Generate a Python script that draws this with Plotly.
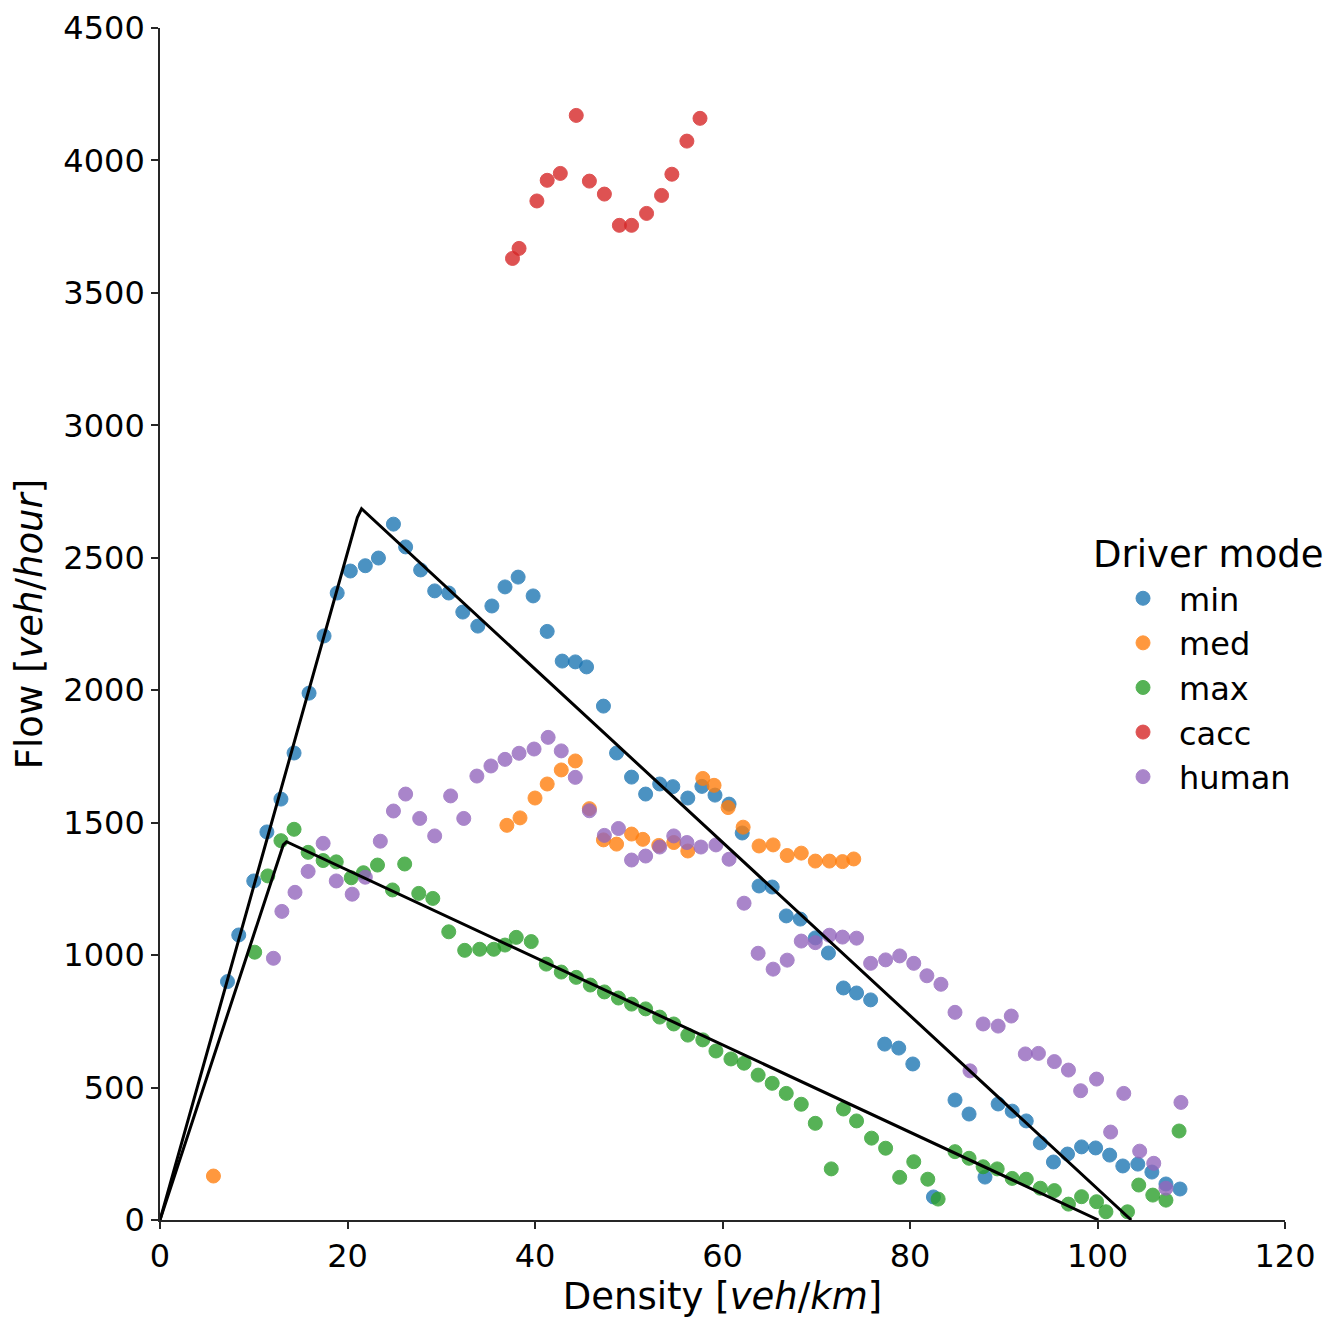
import plotly.graph_objects as go

# ---------------- data ----------------
min_x = [7.2, 8.4, 10.0, 11.4, 12.9, 14.3, 15.9, 17.5, 18.9, 20.3, 21.9, 23.3, 24.9, 26.2, 27.8,
         29.3, 30.8, 32.3, 33.9, 35.4, 36.8, 38.2, 39.8, 41.3, 42.9, 44.3, 45.5, 47.3, 48.7, 50.3,
         51.8, 53.3, 54.7, 56.3, 57.8, 59.2, 60.7, 62.1, 63.9, 65.3, 66.8, 68.3, 69.9, 71.3, 72.9,
         74.3, 75.8, 77.3, 78.8, 80.3, 82.5, 84.8, 86.3, 88.0, 89.4, 90.9, 92.4, 93.9, 95.3, 96.8,
         98.3, 99.8, 101.3, 102.7, 104.3, 105.8, 107.3, 108.8]
min_y = [900, 1076, 1280, 1465, 1589, 1763, 1989, 2205, 2367, 2450, 2470, 2499, 2627, 2541, 2454,
         2375, 2367, 2295, 2242, 2318, 2390, 2427, 2356, 2222, 2110, 2107, 2088, 1940, 1763, 1672,
         1608, 1646, 1636, 1593, 1637, 1604, 1570, 1461, 1261, 1257, 1148, 1136, 1065, 1008, 876,
         857, 831, 664, 649, 589, 87, 453, 400, 162, 438, 411, 374, 291, 219, 249,
         276, 272, 245, 204, 211, 181, 136, 117]

med_x = [5.7, 37.0, 38.4, 40.0, 41.3, 42.8, 44.3, 45.8, 47.3, 48.7, 50.3, 51.5, 53.2, 54.8, 56.3,
         57.9, 59.1, 60.6, 62.2, 63.9, 65.4, 66.9, 68.4, 69.9, 71.4, 72.8, 74.0]
med_y = [166, 1490, 1518, 1593, 1646, 1699, 1733, 1553, 1435, 1419, 1457, 1437, 1414, 1425, 1393,
         1667, 1641, 1557, 1483, 1412, 1416, 1376, 1385, 1355, 1355, 1353, 1363]

max_x = [10.1, 11.5, 12.9, 14.3, 15.8, 17.4, 18.8, 20.4, 21.7, 23.2, 24.8, 26.1, 27.6, 29.1, 30.8,
         32.5, 34.1, 35.6, 36.8, 38.0, 39.6, 41.2, 42.8, 44.4, 45.9, 47.4, 48.9, 50.3, 51.8, 53.3,
         54.8, 56.3, 57.9, 59.3, 60.9, 62.3, 63.8, 65.3, 66.8, 68.4, 69.9, 71.6, 72.9, 74.3, 75.9,
         77.4, 78.9, 80.4, 81.9, 83.0, 84.8, 86.3, 87.8, 89.3, 90.9, 92.4, 93.9, 95.4, 96.9, 98.3,
         99.9, 100.9, 103.2, 104.4, 105.9, 107.3, 108.7]
max_y = [1011, 1299, 1432, 1475, 1388, 1357, 1352, 1292, 1311, 1340, 1246, 1344, 1233, 1214, 1088,
         1018, 1022, 1022, 1038, 1067, 1051, 966, 936, 916, 887, 861, 838, 815, 797, 766,
         740, 698, 680, 638, 608, 592, 547, 516, 478, 437, 365, 193, 419, 374, 309,
         271, 161, 220, 154, 79, 258, 233, 201, 193, 157, 154, 120, 111, 60, 88,
         69, 31, 31, 132, 94, 75, 336]

cacc_x = [37.6, 38.3, 40.2, 41.3, 42.7, 44.4, 45.8, 47.4, 49.0, 50.3, 51.9, 53.5, 54.6, 56.2, 57.6]
cacc_y = [3630, 3668, 3847, 3925, 3951, 4170, 3922, 3873, 3755, 3755, 3800, 3868, 3948, 4073, 4159]

human_x = [12.1, 13.0, 14.4, 15.8, 17.4, 18.8, 20.5, 21.9, 23.5, 24.9, 26.2, 27.7, 29.3, 31.0, 32.4,
           33.8, 35.3, 36.8, 38.3, 39.9, 41.4, 42.8, 44.3, 45.8, 47.4, 48.9, 50.3, 51.8, 53.3, 54.8,
           56.2, 57.7, 59.3, 60.7, 62.3, 63.8, 65.4, 66.9, 68.4, 69.9, 71.4, 72.8, 74.3, 75.8, 77.4,
           78.9, 80.4, 81.8, 83.3, 84.8, 86.4, 87.8, 89.4, 90.8, 92.3, 93.7, 95.4, 96.9, 98.2, 99.9,
           101.4, 102.8, 104.5, 106.0, 107.3, 108.9]
human_y = [988, 1165, 1237, 1316, 1422, 1280, 1230, 1294, 1430, 1544, 1608, 1516, 1450, 1601, 1516,
           1676, 1714, 1739, 1762, 1778, 1822, 1771, 1671, 1545, 1452, 1478, 1359, 1374, 1408, 1450,
           1425, 1408, 1416, 1362, 1196, 1007, 947, 981, 1053, 1047, 1075, 1068, 1064, 969, 982,
           997, 969, 922, 890, 784, 563, 740, 732, 770, 627, 629, 598, 566, 488, 532,
           332, 478, 260, 214, 120, 444]

# fitted triangular fundamental diagrams
fd1_x = [0, 21.05, 21.5, 103.6]
fd1_y = [0, 2652, 2685, 0]
fd2_x = [0, 13.15, 13.5, 100.1]
fd2_y = [0, 1416, 1428, 0]

series = [
    ("min", min_x, min_y, "#1f77b4"),
    ("med", med_x, med_y, "#ff7f0e"),
    ("max", max_x, max_y, "#2ca02c"),
    ("cacc", cacc_x, cacc_y, "#d62728"),
    ("human", human_x, human_y, "#9467bd"),
]

FONT = "DejaVu Sans"
fig = go.Figure()

for name, xs, ys, col in series:
    fig.add_trace(go.Scatter(
        x=xs, y=ys, mode="markers", name=name,
        marker=dict(size=14, color=col, opacity=0.8, line=dict(width=1, color=col)),
    ))

for xs, ys in [(fd1_x, fd1_y), (fd2_x, fd2_y)]:
    fig.add_trace(go.Scatter(x=xs, y=ys, mode="lines", showlegend=False,
                             line=dict(color="black", width=3), hoverinfo="skip"))

axis_common = dict(
    showline=True, linecolor="#262626", linewidth=1.6, mirror=False,
    ticks="outside", ticklen=7, tickwidth=1.6, tickcolor="#262626",
    showgrid=False, zeroline=False, automargin=False,
    tickfont=dict(family=FONT, size=32, color="black"),
)

fig.update_layout(
    width=1328, height=1315,
    margin=dict(l=152, r=51, t=20, b=103),
    plot_bgcolor="white", paper_bgcolor="white",
    font=dict(family=FONT, size=32, color="black"),
    xaxis=dict(range=[0, 120], dtick=20, tick0=0,
               title=dict(text="Density [<i>veh</i>/<i>km</i>]", font=dict(family=FONT, size=37), standoff=8),
               **axis_common),
    yaxis=dict(range=[0, 4500], dtick=500, tick0=0,
               title=dict(text="Flow [<i>veh</i>/<i>hour</i>]", font=dict(family=FONT, size=37), standoff=10),
               **axis_common),
    legend=dict(x=0.8418, y=0.5445, xanchor="left", yanchor="top",
                font=dict(family=FONT, size=32), bgcolor="rgba(0,0,0,0)",
                tracegroupgap=0, itemwidth=62),
    annotations=[dict(text="Driver mode", x=0.932, xref="paper", y=0.558, yref="paper",
                      xanchor="center", yanchor="middle", showarrow=False,
                      font=dict(family=FONT, size=37, color="black"))],
)

fig.write_html("out.html")
